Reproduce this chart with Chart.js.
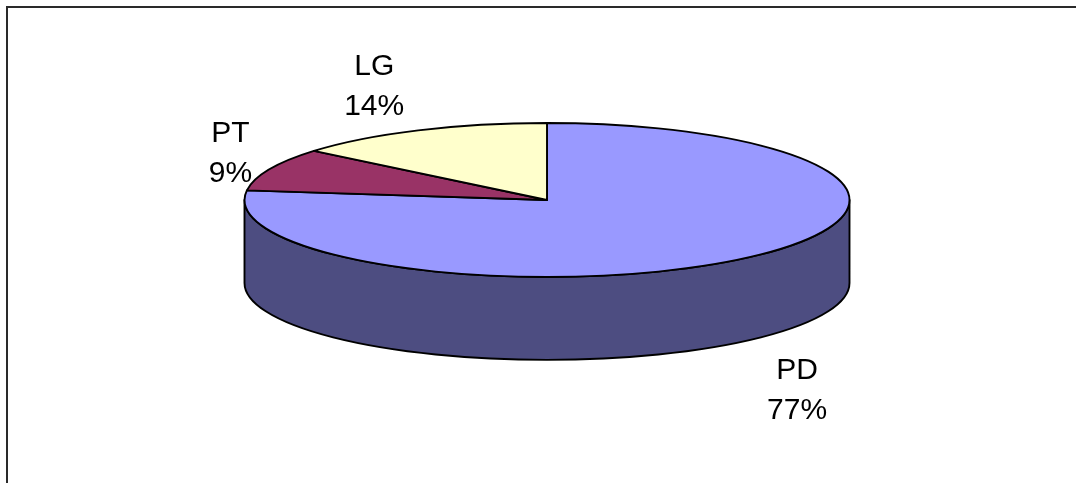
<!DOCTYPE html>
<html>
<head>
<meta charset="utf-8">
<title>PD / PT / LG</title>
<script src="https://cdn.jsdelivr.net/npm/chart.js@4/dist/chart.umd.min.js"></script>
<style>
  html, body { margin: 0; padding: 0; background: #ffffff; }
  #wrap { width: 1076px; height: 483px; }
  canvas { display: block; }
</style>
</head>
<body>
<div id="wrap"><canvas id="pie" width="1076" height="483"></canvas></div>
<script>
// Shares by category, clockwise from 12 o'clock
const categories = ['PD', 'PT', 'LG'];
const shares = [77, 9, 14];
const sliceColors = ['#9999FF', '#993366', '#FFFFCC'];

// Darker shade used for the visible rim of a slice
function shade(hex, f) {
  const n = parseInt(hex.slice(1), 16);
  const r = Math.round(((n >> 16) & 255) * f);
  const g = Math.round(((n >> 8) & 255) * f);
  const b = Math.round((n & 255) * f);
  return 'rgb(' + r + ',' + g + ',' + b + ')';
}

// Draws the pie as a tilted disc with a rim, using the arc angles
// computed by the doughnut controller, then the outside labels.
const tiltedPie = {
  id: 'tiltedPie',
  beforeDatasetsDraw(chart, args, opts) {
    const ctx = chart.ctx;
    const meta = chart.getDatasetMeta(0);
    const area = chart.chartArea;
    const rx = (area.right - area.left) / 2;
    const ry = rx * opts.tilt;
    const depth = rx * opts.depth;
    const ds = chart.data.datasets[0];
    const total = ds.data.reduce((a, b) => a + b, 0);

    ctx.save();
    ctx.lineWidth = opts.lineWidth;
    ctx.strokeStyle = opts.lineColor;
    ctx.lineJoin = 'round';

    // rim (front half only: canvas angles 0..PI)
    meta.data.forEach((arc, i) => {
      const s = Math.max(arc.startAngle, 0);
      const e = Math.min(arc.endAngle, Math.PI);
      if (e <= s) return;
      const cx = arc.x, cy = arc.y;
      ctx.beginPath();
      ctx.ellipse(cx, cy, rx, ry, 0, s, e, false);
      ctx.lineTo(cx + rx * Math.cos(e), cy + depth + ry * Math.sin(e));
      ctx.ellipse(cx, cy + depth, rx, ry, 0, e, s, true);
      ctx.closePath();
      ctx.fillStyle = shade(ds.backgroundColor[i], opts.rimShade);
      ctx.fill();
      ctx.stroke();
    });

    // top faces
    meta.data.forEach((arc, i) => {
      const cx = arc.x, cy = arc.y;
      ctx.beginPath();
      ctx.moveTo(cx, cy);
      ctx.ellipse(cx, cy, rx, ry, 0, arc.startAngle, arc.endAngle, false);
      ctx.closePath();
      ctx.fillStyle = ds.backgroundColor[i];
      ctx.fill();
      ctx.stroke();
    });

    // labels: name and percentage, placed beside the slice's mid point
    ctx.fillStyle = opts.labelColor;
    ctx.font = opts.labelFont;
    ctx.textAlign = 'center';
    ctx.textBaseline = 'alphabetic';
    meta.data.forEach((arc, i) => {
      const mid = (arc.startAngle + arc.endAngle) / 2;
      let ax = arc.x + rx * Math.cos(mid);
      let ay = arc.y + ry * Math.sin(mid);
      if (Math.sin(mid) > 0) ay += depth;
      const off = opts.labelOffsets[i];
      const x = ax + off[0];
      const y = ay + off[1];
      const pct = Math.round(ds.data[i] / total * 100) + '%';
      ctx.fillText(chart.data.labels[i], x, y);
      ctx.fillText(pct, x, y + opts.lineGap);
    });

    ctx.restore();
    return false;
  },
  afterDraw(chart) {
    // chart frame (top and left edges)
    const ctx = chart.ctx;
    ctx.save();
    ctx.strokeStyle = '#2a2a2a';
    ctx.lineWidth = 2;
    ctx.beginPath();
    ctx.moveTo(chart.width + 2, 7);
    ctx.lineTo(7, 7);
    ctx.lineTo(7, chart.height + 2);
    ctx.stroke();
    ctx.restore();
  }
};

new Chart(document.getElementById('pie'), {
  type: 'pie',
  data: {
    labels: categories,
    datasets: [{
      data: shares,
      backgroundColor: sliceColors,
      borderWidth: 0
    }]
  },
  options: {
    responsive: false,
    animation: false,
    rotation: 0,
    layout: { padding: { left: 244.5, right: 226.5, top: 40, bottom: 123 } },
    plugins: {
      legend: { display: false },
      tooltip: { enabled: false },
      tiltedPie: {
        tilt: 0.2545,
        depth: 0.274,
        rimShade: 0.505,
        lineWidth: 1.9,
        lineColor: '#000000',
        labelColor: '#000000',
        labelFont: '30px "Liberation Sans", Arial, sans-serif',
        lineGap: 40,
        labelOffsets: [[50, 38], [-39, -27], [-44, -55]]
      }
    }
  },
  plugins: [tiltedPie]
});
</script>
</body>
</html>
